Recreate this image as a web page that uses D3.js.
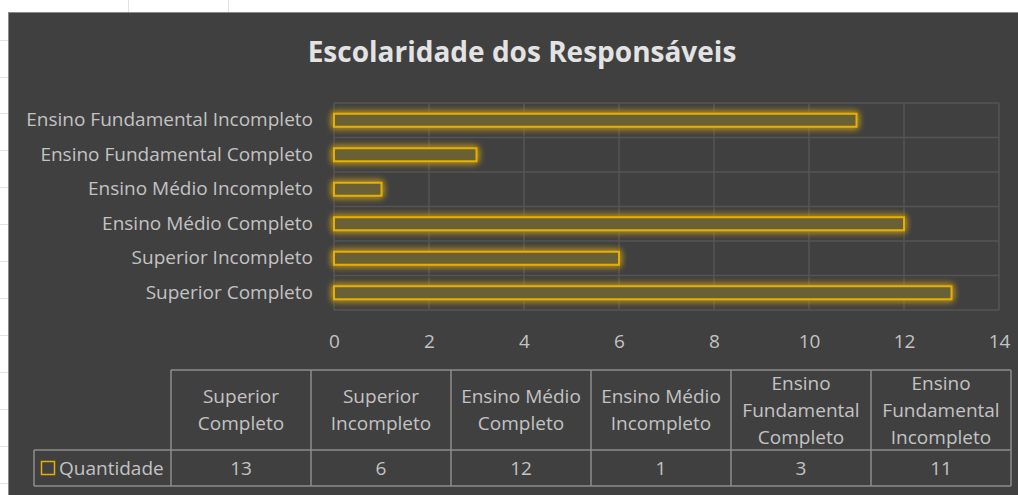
<!DOCTYPE html>
<html>
<head>
<meta charset="utf-8">
<script src="https://cdn.jsdelivr.net/npm/d3@7"></script>
<style>
  html, body { margin: 0; padding: 0; background: #ffffff; }
  svg { display: block; }
  text { font-family: "Open Sans", "Noto Sans", sans-serif; }
</style>
</head>
<body>
<script>
// chart data, in the order of the data table
var categories = ['Superior Completo', 'Superior Incompleto', 'Ensino Médio Completo',
                  'Ensino Médio Incompleto', 'Ensino Fundamental Completo', 'Ensino Fundamental Incompleto'];
var quantidade = [13, 6, 12, 1, 3, 11];
var tableHeaders = [['Superior', 'Completo'], ['Superior', 'Incompleto'], ['Ensino Médio', 'Completo'],
                    ['Ensino Médio', 'Incompleto'], ['Ensino', 'Fundamental', 'Completo'], ['Ensino', 'Fundamental', 'Incompleto']];
var xTicks = [0, 2, 4, 6, 8, 10, 12, 14];
var seriesName = 'Quantidade';
var title = 'Escolaridade dos Responsáveis';

var width = 1018, height = 495;
var plot_left = 334, plot_right = 999, plot_top = 103, plot_bottom = 310;
var label_color = '#c3c3c3', grid_color = '#545454', bar_stroke = '#e6b000';
var fs = '19px';

var svg = d3.select('body').append('svg').attr('width', width).attr('height', height)

// glow for the bars
var defs = svg.append('defs')
var glow = defs.append('filter').attr('id', 'glow').attr('x', '-20%').attr('y', '-100%').attr('width', '140%').attr('height', '300%')
glow.append('feGaussianBlur').attr('in', 'SourceGraphic').attr('stdDeviation', 3.5).attr('result', 'blur')
var merge = glow.append('feMerge')
merge.append('feMergeNode').attr('in', 'blur')
merge.append('feMergeNode').attr('in', 'blur')
merge.append('feMergeNode').attr('in', 'SourceGraphic')

// faint spreadsheet grid on the white margin
var sheet = svg.append('g').attr('stroke', '#e2e2e2').attr('stroke-width', 1)
;[128, 228].forEach(function(x){ sheet.append('line').attr('x1', x+0.5).attr('x2', x+0.5).attr('y1', 0).attr('y2', 12) })
;[40, 77, 113, 150, 187, 224, 261, 298, 335, 372, 409, 446, 483].forEach(function(y){ sheet.append('line').attr('x1', 0).attr('x2', 8).attr('y1', y+0.5).attr('y2', y+0.5) })

// chart area
svg.append('rect').attr('x', 8.5).attr('y', 12.5).attr('width', width-8).attr('height', height-12)
	.attr('fill', '#404040').attr('stroke', '#8a8a8a').attr('stroke-width', 1)

svg.append('text').text(title)
	.attr('x', 522).attr('y', 62).attr('text-anchor', 'middle')
	.attr('fill', '#e3e3e3').attr('font-size', '28px').attr('font-weight', 'bold')

var xScale = d3.scaleLinear().domain([0, 14]).range([plot_left, plot_right])
var yScale = d3.scaleBand()
	.domain(categories.slice().reverse())
	.range([plot_top, plot_bottom])
	.paddingInner(0).paddingOuter(0)

// gridlines
var grid = svg.append('g').attr('stroke', grid_color).attr('stroke-width', 1.5)
xTicks.forEach(function(t){
	grid.append('line').attr('x1', xScale(t)).attr('x2', xScale(t)).attr('y1', plot_top).attr('y2', plot_bottom)
})
yScale.domain().forEach(function(c){
	grid.append('line').attr('x1', plot_left).attr('x2', plot_right).attr('y1', yScale(c)).attr('y2', yScale(c))
})
grid.append('line').attr('x1', plot_left).attr('x2', plot_right).attr('y1', plot_bottom).attr('y2', plot_bottom)

// bars
var barH = 13
svg.append('g').selectAll('.bar')
	.data(categories.map(function(c, i){ return {cat: c, val: quantidade[i]} }))
	.enter()
	.append('rect')
	.attr('class', 'bar')
	.attr('x', xScale(0))
	.attr('y', function(d){ return yScale(d.cat) + yScale.bandwidth()/2 - barH/2 })
	.attr('width', function(d){ return xScale(d.val) - xScale(0) })
	.attr('height', barH)
	.attr('fill', '#6b6135')
	.attr('stroke', bar_stroke).attr('stroke-width', 2)
	.attr('filter', 'url(#glow)')

// category labels
var yAxis = svg.append('g').attr('transform', 'translate('+(plot_left-21)+',0)')
	.call(d3.axisLeft(yScale).tickSize(0).tickPadding(0))
yAxis.select('.domain').remove()
yAxis.selectAll('text').attr('fill', label_color).attr('font-size', fs).attr('font-family', '"Open Sans", sans-serif')

// value axis labels
var xAxis = svg.append('g').attr('transform', 'translate(0,'+plot_bottom+')')
	.call(d3.axisBottom(xScale).tickValues(xTicks).tickSize(0).tickPadding(25))
xAxis.select('.domain').remove()
xAxis.selectAll('text').attr('fill', label_color).attr('font-size', fs).attr('font-family', '"Open Sans", sans-serif')

// data table
var colX = d3.scaleBand().domain(categories).range([171, 1011])
var headTop = 370, headBottom = 450, rowBottom = 486, legLeft = 34
var table = svg.append('g')
var tl = table.append('g').attr('stroke', '#8c8c8c').attr('stroke-width', 1.5).attr('fill', 'none')
tl.append('line').attr('x1', colX.range()[0]).attr('x2', colX.range()[1]).attr('y1', headTop).attr('y2', headTop)
tl.append('line').attr('x1', legLeft).attr('x2', colX.range()[1]).attr('y1', headBottom).attr('y2', headBottom)
tl.append('line').attr('x1', legLeft).attr('x2', colX.range()[1]).attr('y1', rowBottom).attr('y2', rowBottom)
tl.append('line').attr('x1', legLeft).attr('x2', legLeft).attr('y1', headBottom).attr('y2', rowBottom)
categories.forEach(function(c){
	tl.append('line').attr('x1', colX(c)).attr('x2', colX(c)).attr('y1', headTop).attr('y2', rowBottom)
})
tl.append('line').attr('x1', colX.range()[1]).attr('x2', colX.range()[1]).attr('y1', headTop).attr('y2', rowBottom)

var lineGap = 27
categories.forEach(function(c, i){
	var lines = tableHeaders[i]
	var cx = colX(c) + colX.bandwidth()/2
	var y0 = (headTop + headBottom)/2 - (lines.length-1)*lineGap/2
	lines.forEach(function(l, j){
		table.append('text').text(l).attr('x', cx).attr('y', y0 + j*lineGap)
			.attr('dy', '0.35em').attr('text-anchor', 'middle')
			.attr('fill', label_color).attr('font-size', fs)
	})
	table.append('text').text(quantidade[i]).attr('x', cx).attr('y', (headBottom+rowBottom)/2)
		.attr('dy', '0.35em').attr('text-anchor', 'middle')
		.attr('fill', label_color).attr('font-size', fs)
})

// legend key
table.append('rect').attr('x', 41.5).attr('y', 461.5).attr('width', 13).attr('height', 13)
	.attr('fill', 'none').attr('stroke', bar_stroke).attr('stroke-width', 1.5)
table.append('text').text(seriesName).attr('x', 59).attr('y', (headBottom+rowBottom)/2)
	.attr('dy', '0.35em').attr('fill', label_color).attr('font-size', fs)
</script>
</body>
</html>
